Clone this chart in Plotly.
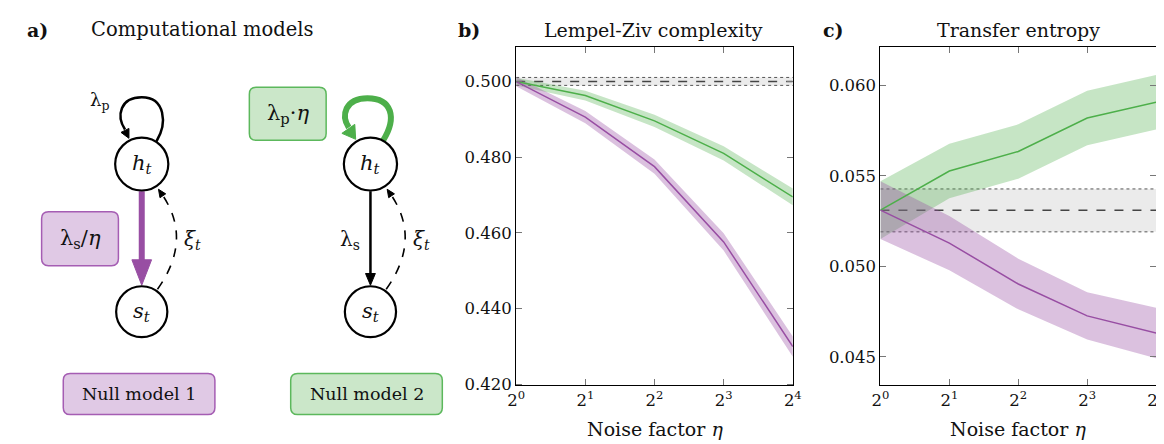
import plotly.graph_objects as go

W, H = 1164, 444

# ---------------- data ----------------
eta_exp = [0, 1, 2, 3, 4]
eta_ticktext = ["2<sup>0</sup>", "2<sup>1</sup>", "2<sup>2</sup>", "2<sup>3</sup>", "2<sup>4</sup>"]

lz_null1 = [0.5000, 0.4906, 0.4775, 0.4576, 0.4299]
lz_null1_hw = [0.0012, 0.0016, 0.0019, 0.0023, 0.0027]
lz_null2 = [0.5000, 0.4963, 0.4896, 0.4810, 0.4695]
lz_null2_hw = [0.0010, 0.0013, 0.0016, 0.0019, 0.0022]
lz_base = 0.5000
lz_base_lo = 0.4990
lz_base_hi = 0.5011
lz_ticks = [0.420, 0.440, 0.460, 0.480, 0.500]

te_null1 = [0.0531, 0.05128, 0.04902, 0.04726, 0.04631]
te_null1_hw = [0.0016, 0.0015, 0.0014, 0.0013, 0.0014]
te_null2 = [0.0531, 0.05526, 0.05634, 0.05819, 0.05906]
te_null2_hw = [0.0016, 0.0015, 0.0015, 0.0015, 0.0015]
te_base = 0.0531
te_base_lo = 0.0519
te_base_hi = 0.05427
te_ticks = [0.045, 0.050, 0.055, 0.060]

PURPLE = "#984ea3"
GREEN = "#4daf4a"
PURPLE_BAND = "rgba(152,78,163,0.35)"
GREEN_BAND = "rgba(77,175,74,0.32)"
GRAY_BAND = "rgba(0,0,0,0.08)"
FONT = "DejaVu Serif"


def px(x):
    return x / W


def py(y):
    return 1 - y / H


fig = go.Figure()


def add_panel(xa, ya, n1, n1hw, n2, n2hw, base, blo, bhi):
    fig.add_trace(go.Scatter(x=[eta_exp[0], eta_exp[-1]], y=[blo, blo], mode="lines",
                             line=dict(color="#555", width=1, dash="dot"),
                             xaxis=xa, yaxis=ya, showlegend=False, hoverinfo="skip"))
    fig.add_trace(go.Scatter(x=[eta_exp[0], eta_exp[-1]], y=[bhi, bhi], mode="lines",
                             line=dict(color="#555", width=1, dash="dot"), fill="tonexty",
                             fillcolor=GRAY_BAND,
                             xaxis=xa, yaxis=ya, showlegend=False, hoverinfo="skip"))
    fig.add_trace(go.Scatter(x=[eta_exp[0], eta_exp[-1]], y=[base, base], mode="lines",
                             line=dict(color="#444", width=1.5, dash="dash"),
                             xaxis=xa, yaxis=ya, showlegend=False, hoverinfo="skip"))
    for vals, hw, col, band in [(n2, n2hw, GREEN, GREEN_BAND), (n1, n1hw, PURPLE, PURPLE_BAND)]:
        lo = [v - h for v, h in zip(vals, hw)]
        hi = [v + h for v, h in zip(vals, hw)]
        fig.add_trace(go.Scatter(x=eta_exp, y=lo, mode="lines", line=dict(width=0),
                                 xaxis=xa, yaxis=ya, showlegend=False, hoverinfo="skip"))
        fig.add_trace(go.Scatter(x=eta_exp, y=hi, mode="lines", line=dict(width=0),
                                 fill="tonexty", fillcolor=band,
                                 xaxis=xa, yaxis=ya, showlegend=False, hoverinfo="skip"))
    for vals, col in [(n2, GREEN), (n1, PURPLE)]:
        fig.add_trace(go.Scatter(x=eta_exp, y=vals, mode="lines", line=dict(color=col, width=1.5),
                                 xaxis=xa, yaxis=ya, showlegend=False))


add_panel("x", "y", lz_null1, lz_null1_hw, lz_null2, lz_null2_hw, lz_base, lz_base_lo, lz_base_hi)
add_panel("x2", "y2", te_null1, te_null1_hw, te_null2, te_null2_hw, te_base, te_base_lo, te_base_hi)

axis_common = dict(showline=True, linecolor="black", linewidth=1, mirror="ticks", ticks="inside",
                   ticklen=6, tickcolor="#777", showgrid=False, zeroline=False,
                   tickfont=dict(family=FONT, size=16.5, color="#111"))

fig.update_layout(
    width=W, height=H, margin=dict(l=0, r=0, t=0, b=0),
    paper_bgcolor="white", plot_bgcolor="white",
    font=dict(family=FONT),
    xaxis=dict(domain=[px(507), px(788)], anchor="y", range=[0, 4], tickvals=eta_exp,
               ticktext=eta_ticktext, **axis_common),
    yaxis=dict(domain=[py(385), py(40)], anchor="x", range=[0.4197, 0.5091], tickvals=lz_ticks,
               tickformat=".3f", **axis_common),
    xaxis2=dict(domain=[px(877), px(1157)], anchor="y2", range=[0, 4], tickvals=eta_exp,
                ticktext=eta_ticktext, **axis_common),
    yaxis2=dict(domain=[py(385), py(40)], anchor="x2", range=[0.04343, 0.0621], tickvals=te_ticks,
                tickformat=".3f", **axis_common),
)

ann = []


def text(x, y, s, size=20, bold=False, color="#111"):
    ann.append(dict(x=px(x), y=py(y), xref="paper", yref="paper", text=("<b>%s</b>" % s) if bold else s,
                    showarrow=False, xanchor="center", yanchor="middle",
                    font=dict(family=FONT, size=size, color=color)))


text(21, 22, "a)", 19, bold=True)
text(188, 22, "Computational models", 19.5)
text(459, 22, "b)", 19, bold=True)
text(647, 22, "Lempel-Ziv complexity", 19)
text(829, 22, "c)", 19, bold=True)
text(1017, 22, "Transfer entropy", 19)
text(648, 430, "Noise factor <i>η</i>", 19)
text(1017, 430, "Noise factor <i>η</i>", 19)

shapes = []


def path_str(cmds):
    out = []
    for c in cmds:
        op = c[0]
        pts = c[1:]
        s = op
        for (x, y) in pts:
            s += " %.5f,%.5f" % (px(x), py(y))
        out.append(s)
    return " ".join(out)


def add_path(cmds, color="black", width=2, fill=None, dash=None, close=False):
    p = path_str(cmds) + (" Z" if close else "")
    sh = dict(type="path", path=p, xref="paper", yref="paper",
              line=dict(color=color, width=width), layer="above")
    if dash:
        sh["line"]["dash"] = dash
    if fill:
        sh["fillcolor"] = fill
    shapes.append(sh)


def arrowhead(tip, direction, length, halfw, color):
    import math
    dx, dy = direction
    n = math.hypot(dx, dy)
    dx, dy = dx / n, dy / n
    bx, by = tip[0] - dx * length, tip[1] - dy * length
    nx, ny = -dy, dx
    add_path([("M", tip), ("L", (bx + nx * halfw, by + ny * halfw)), ("L", (bx - nx * halfw, by - ny * halfw))],
             color=color, width=1, fill=color, close=True)


def rrect(x0, y0, x1, y1, r, fill, border):
    cmds = [("M", (x0 + r, y0)), ("L", (x1 - r, y0)), ("Q", (x1, y0), (x1, y0 + r)),
            ("L", (x1, y1 - r)), ("Q", (x1, y1), (x1 - r, y1)), ("L", (x0 + r, y1)),
            ("Q", (x0, y1), (x0, y1 - r)), ("L", (x0, y0 + r)), ("Q", (x0, y0), (x0 + r, y0))]
    add_path(cmds, color=border, width=1.5, fill=fill, close=True)


def circle(cx, cy, r):
    shapes.append(dict(type="circle", xref="paper", yref="paper", x0=px(cx - r), x1=px(cx + r),
                       y0=py(cy + r), y1=py(cy - r), line=dict(color="black", width=2.2),
                       fillcolor="white", layer="above"))


PBOX_FILL, PBOX_LINE = "#e0c9e5", "#a55db3"
GBOX_FILL, GBOX_LINE = "#cbe7c9", "#5cb85c"

for cx, model in [(126.7, 1), (359.0, 2)]:
    hy, sy = 159.3, 310.0
    add_path([("M", (cx + 16, 287)), ("Q", (cx + 53, 235), (cx + 19, 188))], color="black", width=1.6, dash="dash")
    arrowhead((cx + 17, 185), (-30, -45), 8, 3.5, "black")
    text(cx + 52, 237, "<i>ξ<sub>t</sub></i>", 20)
    if model == 1:
        add_path([("M", (cx + 15, 136)), ("C", (cx + 26, 118), (cx + 24, 91), (cx, 91)),
                  ("C", (cx - 22, 91), (cx - 26, 110), (cx - 17, 124))], color="black", width=2.5)
        arrowhead((cx - 13, 133), (0.5, 1), 9, 4.5, "black")
        text(cx - 43, 95, "λ<sub>p</sub>", 18)
        add_path([("M", (cx, 187)), ("L", (cx, 260))], color=PURPLE, width=6)
        arrowhead((cx, 283), (0, 1), 26, 10, PURPLE)
        rrect(25, 208, 103, 263, 7, PBOX_FILL, PBOX_LINE)
        text(64, 236, "λ<sub>s</sub>/<i>η</i>", 21)
        rrect(47, 373, 201, 415, 7, PBOX_FILL, PBOX_LINE)
        text(124, 394, "Null model 1", 17.5)
    else:
        add_path([("M", (cx + 13, 135)), ("C", (cx + 27, 112), (cx + 22, 92), (cx - 3, 92)),
                  ("C", (cx - 26, 92), (cx - 30, 110), (cx - 22, 122))], color=GREEN, width=6)
        arrowhead((cx - 15, 134), (0.7, 1), 13, 8, GREEN)
        add_path([("M", (cx, 187)), ("L", (cx, 272))], color="black", width=2.5)
        arrowhead((cx, 283), (0, 1), 12, 5, "black")
        text(cx - 21, 237, "λ<sub>s</sub>", 20)
        rrect(236, 81, 314, 135, 7, GBOX_FILL, GBOX_LINE)
        text(275, 108, "λ<sub>p</sub>·<i>η</i>", 21)
        rrect(278, 373, 432, 415, 7, GBOX_FILL, GBOX_LINE)
        text(355, 394, "Null model 2", 17.5)
    circle(cx, hy, 27)
    circle(cx, sy, 26)
    text(cx, hy, "<i>h<sub>t</sub></i>", 21)
    text(cx, sy, "<i>s<sub>t</sub></i>", 21)

fig.update_layout(shapes=shapes, annotations=ann)
fig.write_html("out.html")
